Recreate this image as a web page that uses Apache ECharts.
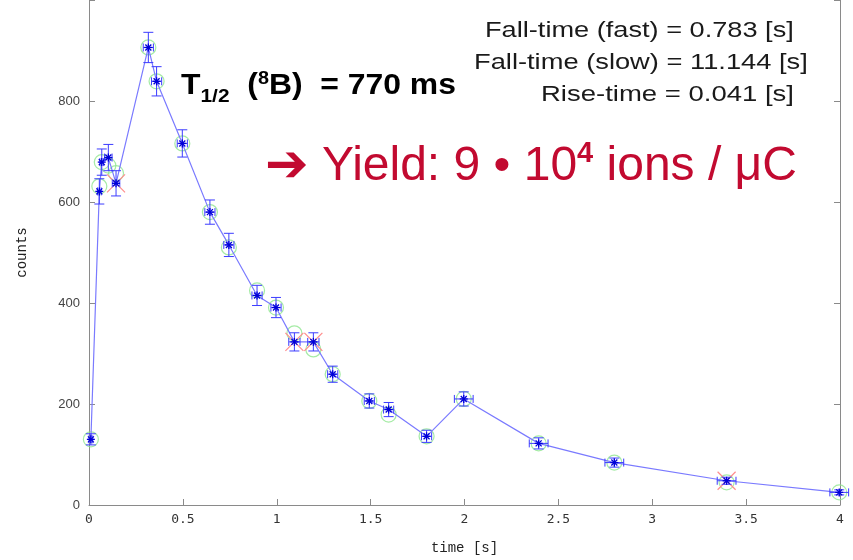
<!DOCTYPE html>
<html>
<head>
<meta charset="utf-8">
<script src="https://cdn.jsdelivr.net/npm/echarts@6/dist/echarts.min.js"></script>
<style>
  html, body { margin: 0; padding: 0; background: #fff; }
  #chart { width: 853px; height: 560px; }
</style>
</head>
<body>
<div id="chart"></div>
<script>
// measured points (time in s, counts)
var timeS   = [0.01, 0.055, 0.068, 0.103, 0.144, 0.316, 0.36, 0.497, 0.644, 0.745, 0.895, 0.996, 1.094, 1.195, 1.298, 1.493, 1.596, 1.798, 1.996, 2.395, 2.798, 3.396, 3.996];
var counts  = [130, 621, 679, 688, 637, 906, 839, 716, 580, 515, 415, 391, 323, 323, 259, 206, 189, 136, 210, 122, 84, 48, 25];
var countErr = [11, 25, 26, 26, 25, 30, 29, 27, 24, 23, 20, 20, 18, 18, 16, 14, 14, 12, 14, 11, 9, 7, 5];
var timeErr  = [0.01, 0.01, 0.01, 0.02, 0.02, 0.027, 0.027, 0.027, 0.027, 0.027, 0.027, 0.027, 0.03, 0.03, 0.027, 0.027, 0.027, 0.027, 0.05, 0.05, 0.05, 0.05, 0.05];
// fit values (green circles)
var fitCounts = [130, 631, 679, 672, 657, 906, 839, 716, 580, 510, 425, 391, 340, 308, 259, 206, 179, 136, 210, 122, 84, 45, 25];
// points marked with red crosses
var flagged = [4, 12, 13, 21];
var yTicks = [0, 200, 400, 600, 800];

var chart = echarts.init(document.getElementById('chart'));

var pts = timeS.map(function (t, i) { return [t, counts[i], timeErr[i], countErr[i]]; });
var fitPts = timeS.map(function (t, i) { return [t, fitCounts[i]]; });
var flagPts = flagged.map(function (i) { return [timeS[i], counts[i]]; });

var axisGray = '#8a8a8a';
var red = '#c20a30';

chart.setOption({
  animation: false,
  grid: { left: 89, right: 13, top: -3, bottom: 54 },
  xAxis: {
    type: 'value', min: 0, max: 4, interval: 0.5,
    name: 'time [s]', nameLocation: 'middle', nameGap: 36,
    nameTextStyle: { fontFamily: 'Liberation Mono', fontSize: 14, color: '#222' },
    axisLine: { onZero: false, lineStyle: { color: axisGray } },
    axisTick: { inside: true, length: 6, lineStyle: { color: axisGray } },
    axisLabel: { fontFamily: 'DejaVu Sans Mono', fontSize: 13, color: '#333', margin: 8 },
    splitLine: { show: false }
  },
  yAxis: [{
    type: 'value', min: 0, max: 1000, interval: 200,
    name: 'counts', nameLocation: 'middle', nameGap: 60,
    nameTextStyle: { fontFamily: 'Liberation Mono', fontSize: 14, color: '#222' },
    axisLine: { show: true, onZero: false, lineStyle: { color: axisGray } },
    axisTick: { show: true, inside: true, length: 6, lineStyle: { color: axisGray } },
    axisLabel: { fontFamily: 'Liberation Sans', fontSize: 13, color: '#444', margin: 9,
      formatter: function (v) { return yTicks.indexOf(v) >= 0 ? v : ''; } },
    splitLine: { show: false }
  }, {
    type: 'value', min: 0, max: 1000, interval: 200, position: 'right',
    axisLine: { show: true, onZero: false, lineStyle: { color: axisGray } },
    axisTick: { show: true, inside: true, length: 6, lineStyle: { color: axisGray } },
    axisLabel: { show: false }, splitLine: { show: false }
  }],
  series: [
    {
      type: 'scatter', data: fitPts, symbol: 'circle', symbolSize: 15,
      itemStyle: { color: 'rgba(0,0,0,0)', borderColor: '#8fe68f', borderWidth: 1.2 }, z: 2
    },
    {
      type: 'custom', data: flagPts, z: 3,
      renderItem: function (params, api) {
        var p = api.coord([api.value(0), api.value(1)]);
        var s = 9;
        return { type: 'group', children: [
          { type: 'line', shape: { x1: p[0] - s, y1: p[1] - s, x2: p[0] + s, y2: p[1] + s }, style: { stroke: '#ff8a8a', lineWidth: 1.2 } },
          { type: 'line', shape: { x1: p[0] - s, y1: p[1] + s, x2: p[0] + s, y2: p[1] - s }, style: { stroke: '#ff8a8a', lineWidth: 1.2 } }
        ] };
      }
    },
    {
      type: 'line', data: pts.map(function (d) { return [d[0], d[1]]; }), showSymbol: false,
      lineStyle: { color: '#7a7aff', width: 1.2 }, z: 4
    },
    {
      type: 'custom', data: pts, z: 5,
      renderItem: function (params, api) {
        var t = api.value(0), v = api.value(1), dt = api.value(2), dv = api.value(3);
        var c = api.coord([t, v]);
        var top = api.coord([t, v + dv]), bot = api.coord([t, v - dv]);
        var lft = api.coord([t - dt, v]), rgt = api.coord([t + dt, v]);
        var bar = { stroke: '#3c3cff', lineWidth: 1 };
        var star = { stroke: '#0000d8', lineWidth: 1.3 };
        var cw = 5, ch = 4, s = 4;
        return { type: 'group', children: [
          { type: 'line', shape: { x1: c[0], y1: top[1], x2: c[0], y2: bot[1] }, style: bar },
          { type: 'line', shape: { x1: c[0] - cw, y1: top[1], x2: c[0] + cw, y2: top[1] }, style: bar },
          { type: 'line', shape: { x1: c[0] - cw, y1: bot[1], x2: c[0] + cw, y2: bot[1] }, style: bar },
          { type: 'line', shape: { x1: lft[0], y1: c[1], x2: rgt[0], y2: c[1] }, style: bar },
          { type: 'line', shape: { x1: lft[0], y1: c[1] - ch, x2: lft[0], y2: c[1] + ch }, style: bar },
          { type: 'line', shape: { x1: rgt[0], y1: c[1] - ch, x2: rgt[0], y2: c[1] + ch }, style: bar },
          { type: 'line', shape: { x1: c[0] - s, y1: c[1], x2: c[0] + s, y2: c[1] }, style: star },
          { type: 'line', shape: { x1: c[0], y1: c[1] - s, x2: c[0], y2: c[1] + s }, style: star },
          { type: 'line', shape: { x1: c[0] - 3, y1: c[1] - 3, x2: c[0] + 3, y2: c[1] + 3 }, style: star },
          { type: 'line', shape: { x1: c[0] - 3, y1: c[1] + 3, x2: c[0] + 3, y2: c[1] - 3 }, style: star }
        ] };
      }
    }
  ],
  graphic: [
    { type: 'text', x: 485, y: 20, scaleX: 1.235, style: { text: 'Fall-time (fast) = 0.783 [s]', font: '22px "Liberation Sans", Arial', fill: '#1a1a1a' } },
    { type: 'text', x: 474, y: 52, scaleX: 1.24, style: { text: 'Fall-time (slow) = 11.144 [s]', font: '22px "Liberation Sans", Arial', fill: '#1a1a1a' } },
    { type: 'text', x: 541, y: 84, scaleX: 1.25, style: { text: 'Rise-time = 0.041 [s]', font: '22px "Liberation Sans", Arial', fill: '#1a1a1a' } },
    { type: 'text', x: 181, y: 66, scaleX: 1.1, style: {
        text: '{b|T}{sub|1/2}{b|  (}{sup|8}{b|B)  = 770 ms}',
        rich: {
          b: { font: 'bold 29px "Liberation Sans", Arial', fill: '#000', verticalAlign: 'middle', lineHeight: 40 },
          sub: { font: 'bold 19px "Liberation Sans", Arial', fill: '#000', verticalAlign: 'bottom', lineHeight: 19 },
          sup: { font: 'bold 18px "Liberation Sans", Arial', fill: '#000', verticalAlign: 'top', lineHeight: 18, padding: [4, 0, 0, 0] }
        }
      } },
    { type: 'text', x: 265, y: 137, style: {
        text: '{a|\u2794}{t| Yield: 9 \u2022 10}{sup|4}{t| ions / \u03bcC}',
        rich: {
          a: { font: 'bold 52px "DejaVu Sans"', fill: red, verticalAlign: 'middle', lineHeight: 60 },
          t: { font: '48px "Liberation Sans", Arial', fill: red, verticalAlign: 'middle', lineHeight: 60 },
          sup: { font: 'bold 29px "Liberation Sans", Arial', fill: red, verticalAlign: 'top', lineHeight: 29, padding: [2, 0, 0, 0] }
        }
      } }
  ]
});
</script>
</body>
</html>
